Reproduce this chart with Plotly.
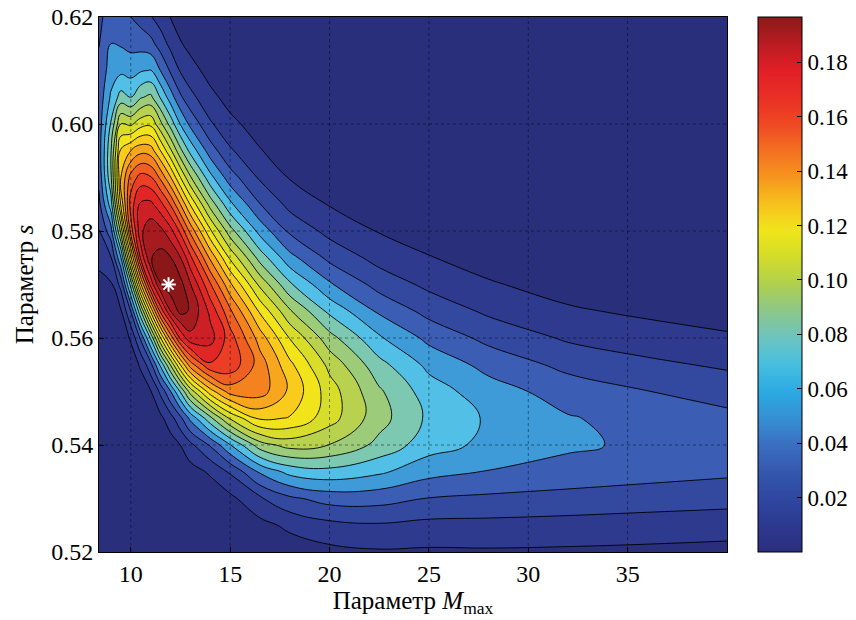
import plotly.graph_objects as go

# ---- data ----
M_values = [8.4, 9, 9.5, 10, 10.5, 11, 11.5, 12, 12.5, 13, 14, 15, 16.5, 18, 20, 22.5, 25, 28, 32, 36, 40]
s_values = [0.520, 0.525, 0.530, 0.535, 0.540, 0.545, 0.550, 0.555, 0.560, 0.565, 0.570,
            0.575, 0.580, 0.585, 0.590, 0.595, 0.600, 0.605, 0.610, 0.615, 0.620]

z_s520 = [0, 0, 0, 0, 0, 0, 0, 0, 0, 0.0001, 0.0001, 0.0005, 0.0020, 0.0044, 0.0072, 0.0089, 0.0085, 0.0088, 0.0084, 0.0078, 0.0070]
z_s525 = [0, 0, 0, 0, 0, 0, 0, 0.0001, 0.0001, 0.0004, 0.0008, 0.0020, 0.0068, 0.0122, 0.0171, 0.0189, 0.0172, 0.0170, 0.0163, 0.0153, 0.0143]
z_s530 = [0, 0, 0, 0, 0, 0, 0.0001, 0.0003, 0.0007, 0.0016, 0.0034, 0.0074, 0.0185, 0.0280, 0.0340, 0.0339, 0.0296, 0.0281, 0.0265, 0.0250, 0.0237]
z_s535 = [0, 0, 0, 0, 0, 0.0001, 0.0005, 0.0014, 0.0030, 0.0058, 0.0114, 0.0214, 0.0415, 0.0533, 0.0568, 0.0517, 0.0435, 0.0395, 0.0363, 0.0339, 0.0319]
z_s540 = [0, 0, 0, 0, 0.0002, 0.0006, 0.0021, 0.0051, 0.0101, 0.0175, 0.0311, 0.0495, 0.0755, 0.0839, 0.0798, 0.0671, 0.0544, 0.0474, 0.0417, 0.0380, 0.0350]
z_s545 = [0.0001, 0, 0, 0.0002, 0.0008, 0.0026, 0.0076, 0.0158, 0.0275, 0.0425, 0.0671, 0.0913, 0.1119, 0.1093, 0.0943, 0.0739, 0.0580, 0.0487, 0.0408, 0.0361, 0.0324]
z_s550 = [0.0002, 0.0001, 0.0001, 0.0008, 0.0034, 0.0093, 0.0223, 0.0396, 0.0611, 0.0841, 0.1156, 0.1342, 0.1348, 0.1180, 0.0949, 0.0715, 0.0549, 0.0445, 0.0354, 0.0302, 0.0262]
z_s555 = [0.0006, 0.0002, 0.0006, 0.0034, 0.0117, 0.0267, 0.0525, 0.0807, 0.1103, 0.1353, 0.1587, 0.1573, 0.1353, 0.1126, 0.0871, 0.0633, 0.0474, 0.0367, 0.0272, 0.0222, 0.0184]
z_s560 = [0.0015, 0.0009, 0.0027, 0.0114, 0.0317, 0.0613, 0.0998, 0.1335, 0.1619, 0.1769, 0.1740, 0.1547, 0.1254, 0.0995, 0.0738, 0.0514, 0.0373, 0.0272, 0.0186, 0.0144, 0.0113]
z_s565 = [0.0035, 0.0031, 0.0088, 0.0301, 0.0686, 0.1120, 0.1532, 0.1798, 0.1934, 0.1888, 0.1674, 0.1420, 0.1084, 0.0814, 0.0576, 0.0383, 0.0268, 0.0182, 0.0113, 0.0082, 0.0060]
z_s570 = [0.0071, 0.0085, 0.0233, 0.0637, 0.1182, 0.1631, 0.1898, 0.1970, 0.1935, 0.1807, 0.1512, 0.1221, 0.0875, 0.0617, 0.0414, 0.0262, 0.0176, 0.0110, 0.0061, 0.0041, 0.0028]
z_s575 = [0.0126, 0.0192, 0.0493, 0.1074, 0.1624, 0.1894, 0.1936, 0.1905, 0.1802, 0.1624, 0.1280, 0.0982, 0.0659, 0.0433, 0.0274, 0.0164, 0.0105, 0.0060, 0.0029, 0.0018, 0.0011]
z_s580 = [0.0197, 0.0358, 0.0831, 0.1442, 0.1780, 0.1862, 0.1830, 0.1736, 0.1576, 0.1372, 0.1018, 0.0741, 0.0463, 0.0281, 0.0168, 0.0094, 0.0057, 0.0029, 0.0012, 0.0007, 0.0004]
z_s585 = [0.0271, 0.0552, 0.1116, 0.1548, 0.1720, 0.1726, 0.1633, 0.1491, 0.1296, 0.1089, 0.0759, 0.0523, 0.0303, 0.0169, 0.0094, 0.0050, 0.0029, 0.0013, 0.0005, 0.0003, 0.0001]
z_s590 = [0.0328, 0.0680, 0.1199, 0.1440, 0.1540, 0.1512, 0.1378, 0.1207, 0.1000, 0.0812, 0.0532, 0.0346, 0.0185, 0.0094, 0.0049, 0.0024, 0.0013, 0.0005, 0.0002, 0.0001, 0]
z_s595 = [0.0350, 0.0690, 0.1120, 0.1200, 0.1270, 0.1251, 0.1098, 0.0920, 0.0725, 0.0569, 0.0349, 0.0214, 0.0106, 0.0048, 0.0023, 0.0011, 0.0005, 0.0002, 0.0001, 0, 0]
z_s600 = [0.0346, 0.0610, 0.0900, 0.0880, 0.0960, 0.0978, 0.0827, 0.0661, 0.0494, 0.0374, 0.0214, 0.0124, 0.0057, 0.0023, 0.0010, 0.0004, 0.0002, 0.0001, 0, 0, 0]
z_s605 = [0.0336, 0.0515, 0.0640, 0.0600, 0.0690, 0.0723, 0.0589, 0.0447, 0.0316, 0.0231, 0.0124, 0.0067, 0.0028, 0.0010, 0.0004, 0.0002, 0.0001, 0, 0, 0, 0]
z_s610 = [0.0319, 0.0450, 0.0475, 0.0460, 0.0490, 0.0504, 0.0396, 0.0285, 0.0190, 0.0134, 0.0067, 0.0034, 0.0013, 0.0004, 0.0002, 0.0001, 0, 0, 0, 0, 0]
z_s615 = [0.0297, 0.0400, 0.0390, 0.0370, 0.0360, 0.0333, 0.0252, 0.0171, 0.0107, 0.0073, 0.0035, 0.0016, 0.0006, 0.0002, 0.0001, 0, 0, 0, 0, 0, 0]
z_s620 = [0.0271, 0.0360, 0.0325, 0.0300, 0.0260, 0.0207, 0.0151, 0.0097, 0.0057, 0.0037, 0.0016, 0.0008, 0.0002, 0.0001, 0, 0, 0, 0, 0, 0, 0]

opt_M = [11.9]
opt_s = [0.570]

x_ticks = [10, 15, 20, 25, 30, 35]
y_ticks = [0.52, 0.54, 0.56, 0.58, 0.60, 0.62]
cb_ticks = [0.02, 0.04, 0.06, 0.08, 0.10, 0.12, 0.14, 0.16, 0.18]
level_start, level_end, level_step = 0.01, 0.19, 0.01
z_max = 0.1966

# band fill colours (lowest band first), as seen in the printed figure
band_colors = ["#2A2F7C", "#2D3A8E", "#3349A0", "#3B5DB3", "#3F9AD8", "#52C0E6", "#7CC8B0",
               "#9CCB7A", "#B8D14E", "#D8DD2A", "#F2E41B", "#F8CB1C", "#F7A61E", "#F4831F",
               "#F05F22", "#EA3F24", "#E22626", "#CC2026", "#A61B20", "#8C1719"]

# colorbar (continuous jet as printed)
jet_muted = [
    [0.00, "#2B2E7E"], [0.05, "#2C3990"], [0.10, "#2F47A1"], [0.15, "#3558AF"],
    [0.20, "#3A6EC1"], [0.25, "#3690D3"], [0.30, "#2BAAE2"], [0.35, "#47BFE0"],
    [0.40, "#6CC4C0"], [0.45, "#8CC78A"], [0.50, "#AFD04E"], [0.55, "#D2DC2A"],
    [0.60, "#F0E51B"], [0.65, "#F6C21C"], [0.70, "#F7961E"], [0.75, "#F37021"],
    [0.80, "#EF4823"], [0.85, "#E92F25"], [0.90, "#E21F26"], [0.95, "#B81C22"],
    [1.00, "#8B1A1A"],
]

# ---- build ----
Z = [z_s520, z_s525, z_s530, z_s535, z_s540, z_s545, z_s550, z_s555, z_s560, z_s565, z_s570,
     z_s575, z_s580, z_s585, z_s590, z_s595, z_s600, z_s605, z_s610, z_s615, z_s620]

nb = len(band_colors) - 1
fill_scale = [[i / nb, c] for i, c in enumerate(band_colors)]

FONT = "Liberation Serif"
TICK_SIZE = 24
TITLE_SIZE = 25

fig = go.Figure()
fig.add_trace(go.Contour(
    x=M_values, y=s_values, z=Z,
    colorscale=fill_scale,
    contours=dict(start=level_start, end=level_end, size=level_step, coloring="fill"),
    line=dict(color="black", width=0.9, smoothing=1.2),
    showscale=False,
    hoverinfo="skip",
))

fig.add_trace(go.Scatter(
    x=[None], y=[None], mode="markers",
    marker=dict(
        color=[0], colorscale=jet_muted, cmin=0, cmax=z_max, showscale=True,
        colorbar=dict(
            x=1.0494, xanchor="left", xpad=0, ypad=0, y=0.5, yanchor="middle",
            len=1.0, lenmode="fraction",
            thickness=44, outlinecolor="black", outlinewidth=1,
            tickvals=cb_ticks, ticktext=[f"{v:.2f}" for v in cb_ticks],
            ticks="inside", ticklen=5, tickcolor="black",
            tickfont=dict(family=FONT, size=23, color="black"),
        ),
    ),
    showlegend=False, hoverinfo="skip",
))

fig.add_trace(go.Scatter(
    x=opt_M, y=opt_s, mode="markers",
    marker=dict(symbol="asterisk-open", size=12, color="white", line=dict(color="white", width=2)),
    showlegend=False, hoverinfo="skip",
))

x_range = [M_values[0], M_values[-1]]
y_range = [s_values[0], s_values[-1]]

grid_line = dict(color="rgba(0,0,0,0.45)", width=1, dash="dot")
shapes = []
for xv in x_ticks:
    shapes.append(dict(type="line", xref="x", yref="y", x0=xv, x1=xv, y0=y_range[0], y1=y_range[1],
                       line=grid_line, layer="above"))
for yv in y_ticks[1:-1]:
    shapes.append(dict(type="line", xref="x", yref="y", x0=x_range[0], x1=x_range[1], y0=yv, y1=yv,
                       line=grid_line, layer="above"))

fig.update_layout(
    width=856, height=620,
    margin=dict(l=99, r=129, t=17, b=68, autoexpand=False),
    paper_bgcolor="white", plot_bgcolor="white",
    font=dict(family=FONT, size=TICK_SIZE, color="black"),
    shapes=shapes,
    showlegend=False,
    xaxis=dict(
        range=x_range, tickvals=x_ticks, ticktext=[str(v) for v in x_ticks],
        showgrid=False, zeroline=False, showline=True, linecolor="black", linewidth=1, mirror=True,
        ticks="inside", ticklen=5, tickcolor="black",
        tickfont=dict(family=FONT, size=TICK_SIZE),
        title=dict(text="Параметр <i>M</i><sub>max</sub>", font=dict(family=FONT, size=TITLE_SIZE), standoff=4),
    ),
    yaxis=dict(
        range=y_range, tickvals=y_ticks, ticktext=[f"{v:.2f}" for v in y_ticks],
        showgrid=False, zeroline=False, showline=True, linecolor="black", linewidth=1, mirror=True,
        ticks="inside", ticklen=5, tickcolor="black",
        tickfont=dict(family=FONT, size=TICK_SIZE),
        title=dict(text="Параметр <i>s</i>", font=dict(family=FONT, size=TITLE_SIZE), standoff=10),
    ),
)

fig.write_html("out.html")
